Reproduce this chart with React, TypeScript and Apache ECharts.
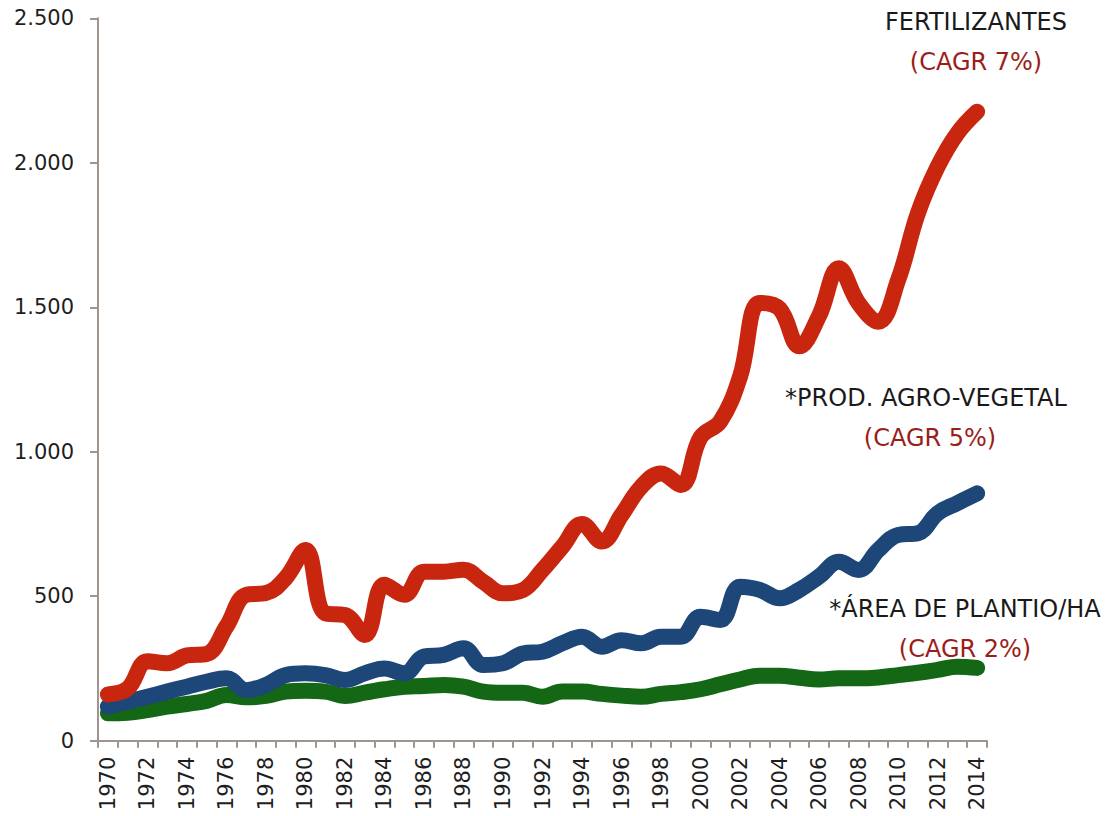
import React, { useEffect, useRef } from "react";
import * as echarts from "echarts";

const years = [
  "1970", "1971", "1972", "1973", "1974", "1975", "1976", "1977", "1978", "1979",
  "1980", "1981", "1982", "1983", "1984", "1985", "1986", "1987", "1988", "1989",
  "1990", "1991", "1992", "1993", "1994", "1995", "1996", "1997", "1998", "1999",
  "2000", "2001", "2002", "2003", "2004", "2005", "2006", "2007", "2008", "2009",
  "2010", "2011", "2012", "2013", "2014",
];

const fertilizantes = [
  160, 180, 275, 268, 295, 300, 395, 505, 511, 563,
  660, 441, 435, 366, 540, 505, 585, 585, 592, 550,
  510, 521, 591, 671, 750, 689, 781, 879, 925, 885,
  1050, 1105, 1260, 1515, 1495, 1365, 1470, 1635, 1514, 1450,
  1594, 1825, 1986, 2102, 2177,
];

const prodAgroVegetal = [
  118, 135, 152, 170, 187, 204, 216, 175, 193, 227,
  233, 227, 210, 233, 250, 233, 291, 297, 320, 262,
  268, 302, 308, 337, 360, 325, 348, 337, 360, 360,
  429, 418, 533, 522, 493, 522, 568, 619, 591, 660,
  712, 718, 787, 822, 856,
];

const areaPlantio = [
  95, 97, 106, 118, 127, 138, 158, 150, 155, 170,
  173, 170, 155, 166, 178, 187, 189, 193, 187, 170,
  166, 166, 152, 170, 170, 162, 156, 152, 162, 168,
  178, 195, 212, 225, 225, 218, 212, 216, 216, 219,
  227, 235, 245, 256, 252,
];

const yTickLabels = ["0", "500", "1.000", "1.500", "2.000", "2.500"];

const FONT = "DejaVu Sans";
const AXIS_COLOR = "#a0948e";
const RED = "#c8260f";
const BLUE = "#1d4679";
const GREEN = "#146714";
const CAGR_COLOR = "#9a1e19";

export default function App() {
  const ref = useRef<HTMLDivElement>(null);

  useEffect(() => {
    if (!ref.current) return;
    const chart = echarts.init(ref.current, undefined, { renderer: "svg" });

    const lineSeries = (name: string, data: number[], color: string, width: number) => ({
      name,
      type: "line",
      data,
      smooth: 0.4,
      showSymbol: false,
      symbol: "none",
      lineStyle: { color, width, cap: "round", join: "round" },
      itemStyle: { color },
    });

    const txt = (text: string, x: number, y: number, fill: string) => ({
      type: "text",
      x,
      y,
      style: {
        text,
        fill,
        fontSize: 24,
        fontFamily: FONT,
        align: "center",
        verticalAlign: "middle",
        textAlign: "center",
        textVerticalAlign: "middle",
      },
    });

    chart.setOption({
      animation: false,
      backgroundColor: "#ffffff",
      textStyle: { fontFamily: FONT },
      grid: { left: 98, right: 130, top: 18.3, bottom: 75.3, containLabel: false },
      xAxis: {
        type: "category",
        data: years,
        boundaryGap: true,
        axisLine: { show: true, lineStyle: { color: AXIS_COLOR, width: 2 } },
        axisTick: {
          show: true,
          interval: 0,
          alignWithLabel: false,
          length: 7,
          lineStyle: { color: AXIS_COLOR, width: 2 },
        },
        axisLabel: {
          interval: 1,
          rotate: 90,
          fontSize: 21,
          fontFamily: FONT,
          color: "#1e1e1e",
          margin: 16,
        },
        splitLine: { show: false },
      },
      yAxis: {
        type: "value",
        min: 0,
        max: 2500,
        interval: 500,
        axisLine: { show: true, lineStyle: { color: AXIS_COLOR, width: 2 } },
        axisTick: { show: true, length: 8, lineStyle: { color: AXIS_COLOR, width: 2 } },
        axisLabel: {
          fontSize: 21,
          fontFamily: FONT,
          color: "#1e1e1e",
          margin: 24,
          formatter: (v: number) => yTickLabels[Math.round(v / 500)] ?? String(v),
        },
        splitLine: { show: false },
      },
      series: [
        lineSeries("*ÁREA DE PLANTIO/HA", areaPlantio, GREEN, 16),
        lineSeries("*PROD. AGRO-VEGETAL", prodAgroVegetal, BLUE, 16),
        lineSeries("FERTILIZANTES", fertilizantes, RED, 16),
      ],
      graphic: [
        txt("FERTILIZANTES", 976, 22, "#1a1a1a"),
        txt("(CAGR 7%)", 976, 62, CAGR_COLOR),
        txt("*PROD. AGRO-VEGETAL", 926, 398, "#1a1a1a"),
        txt("(CAGR 5%)", 930, 438, CAGR_COLOR),
        txt("*ÁREA DE PLANTIO/HA", 965, 609, "#1a1a1a"),
        txt("(CAGR 2%)", 965, 649, CAGR_COLOR),
      ],
    });

    return () => chart.dispose();
  }, []);

  return (
    <div
      ref={ref}
      style={{ position: "absolute", left: 0, top: 0, width: 1117, height: 816 }}
    />
  );
}
